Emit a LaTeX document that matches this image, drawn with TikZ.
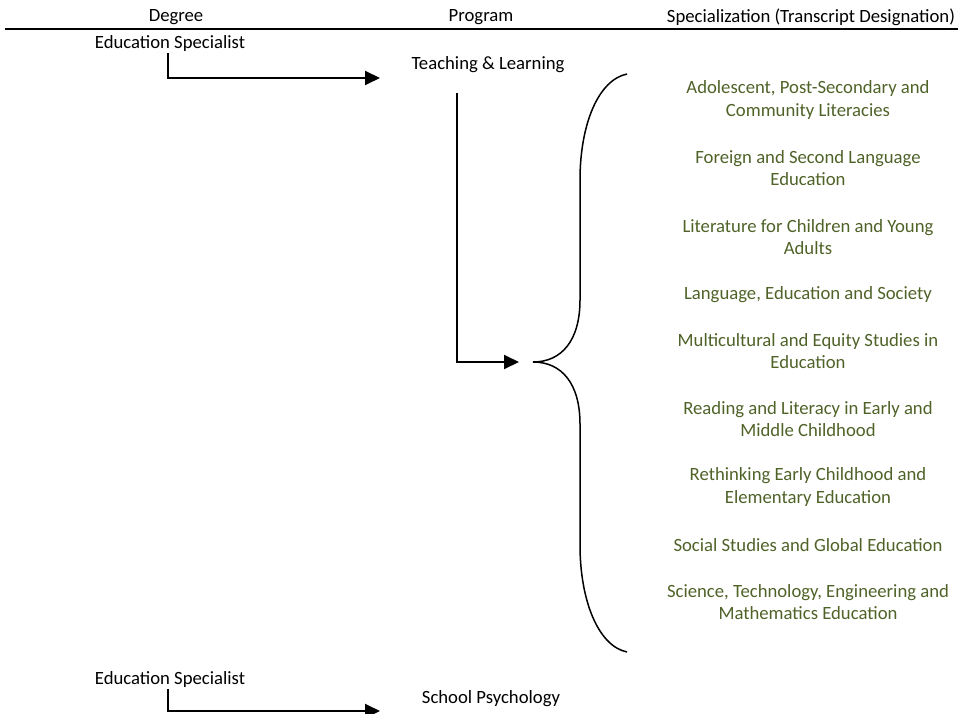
\documentclass[tikz,border=0pt]{standalone}
\usepackage{fontspec}
\setmainfont{Carlito}
\usetikzlibrary{arrows.meta, positioning, calc}
\definecolor{specgreen}{HTML}{4F6228}

\begin{document}
\begin{tikzpicture}[x=1pt, y=-1pt, >={Triangle[length=15pt, width=14pt]}, line width=1.9pt,
    every node/.style={inner sep=0pt, align=center, font=\fontsize{18.7}{22.8}\selectfont},
    spec/.style={text=specgreen}]
    \useasboundingbox (0,0) rectangle (958,714);

    % column heads
    \node (HDegree) at (176,17) {Degree};
    \node (HProgram) at (481,17) {Program};
    \node (HSpec) at (811,17) {Specialization (Transcript Designation)};
    \coordinate (RuleL) at (5,29);
    \coordinate (RuleR) at (958,29);
    \draw (RuleL) -- (RuleR);

    % first degree
    \node (ES1) at (170,44) {Education Specialist};
    \node (TL) at (488,65) {Teaching \& Learning};
    \coordinate (TLin) at (380,78);
    \draw[->] ([xshift=-2pt]ES1.south) |- (TLin);

    \coordinate (TLdrop) at (457,93);
    \coordinate (BraceIn) at (519,362);
    \draw[->] (TLdrop) |- (BraceIn);

    % brace
    \coordinate (BraceTop) at (627,74);
    \coordinate (BraceMid) at (533,362);
    \coordinate (BraceBot) at (627,652);
    \draw[line width=1.5pt] (BraceTop) .. controls (598,80) and (580,125) .. (580,180)
        -- (580,300) .. controls (580,340) and (562,362) .. (BraceMid)
        .. controls (562,362) and (580,384) .. (580,424)
        -- (580,545) .. controls (580,600) and (598,646) .. (BraceBot);

    % specializations
    \node[spec] (Spec1) at (808,100) {Adolescent, Post-Secondary and\\Community Literacies};
    \node[spec] (Spec2) at (808,168) {Foreign and Second Language\\Education};
    \node[spec] (Spec3) at (808,237) {Literature for Children and Young\\Adults};
    \node[spec] (Spec4) at (808,295) {Language, Education and Society};
    \node[spec] (Spec5) at (808,351) {Multicultural and Equity Studies in\\Education};
    \node[spec] (Spec6) at (808,419) {Reading and Literacy in Early and\\Middle Childhood};
    \node[spec] (Spec7) at (808,487) {Rethinking Early Childhood and\\Elementary Education};
    \node[spec] (Spec8) at (808,545) {Social Studies and Global Education};
    \node[spec] (Spec9) at (808,602) {Science, Technology, Engineering and\\Mathematics Education};

    % second degree
    \node (ES2) at (170,680) {Education Specialist};
    \node (SP) at (491,699) {School Psychology};
    \coordinate (SPin) at (380,711);
    \draw[->] ([xshift=-2pt]ES2.south) |- (SPin);
\end{tikzpicture}
\end{document}
